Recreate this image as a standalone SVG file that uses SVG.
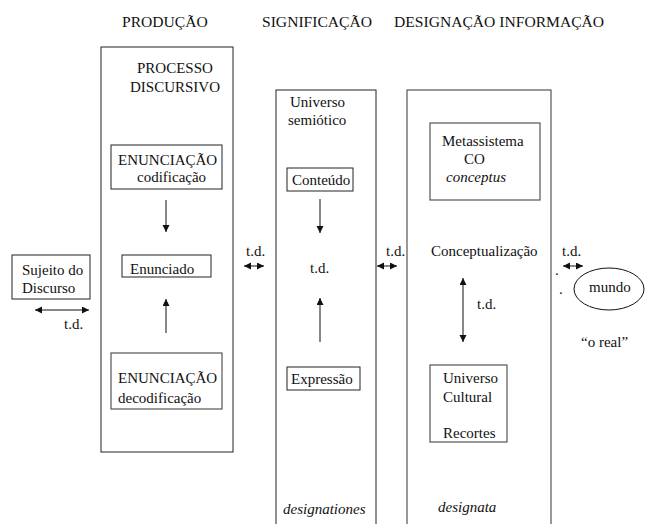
<svg xmlns="http://www.w3.org/2000/svg" width="645" height="524" viewBox="0 0 645 524" font-family="'Liberation Serif', 'Times New Roman', Times, serif">
<style>
text{font-family:'Liberation Serif','Times New Roman',Times,serif;font-size:15px;fill:#111}
.hd{font-size:15.6px}
.it{font-style:italic}
.box{fill:none;stroke:#222;stroke-width:1}
.gbox{fill:none;stroke:#555;stroke-width:1.2}
.ln{stroke:#111;stroke-width:1;fill:none}
</style>
<defs>
<marker id="ah" markerUnits="userSpaceOnUse" markerWidth="8" markerHeight="8" refX="7" refY="3.5" orient="auto-start-reverse">
<path d="M0,0 L7,3.5 L0,7 z" fill="#111"/>
</marker>
</defs>
<rect width="645" height="524" fill="#fff"/>
<g id="headers">
<text class="hd" x="122" y="27">PRODUÇÃO</text>
<text class="hd" x="262" y="27">SIGNIFICAÇÃO</text>
<text class="hd" x="394" y="27">DESIGNAÇÃO INFORMAÇÃO</text>
</g>
<g id="sujeito">
<rect class="box" x="12" y="255" width="78" height="44"/>
<text x="22" y="275">Sujeito do</text>
<text x="22" y="293">Discurso</text>
</g>
<g id="producao">
<rect class="box" x="101" y="47" width="132" height="405"/>
<text x="137" y="73">PROCESSO</text>
<text x="130" y="92">DISCURSIVO</text>
</g>
<g id="enunciacao-cod">
<rect class="box" x="111" y="145" width="111" height="44"/>
<text x="118" y="165">ENUNCIAÇÃO</text>
<text x="137" y="182">codificação</text>
</g>
<g id="enunciado">
<rect class="box" x="122" y="255" width="89" height="22"/>
<text x="130" y="274">Enunciado</text>
</g>
<g id="enunciacao-decod">
<rect class="gbox" x="111" y="353" width="111" height="56"/>
<text x="118" y="383">ENUNCIAÇÃO</text>
<text x="118" y="403">decodificação</text>
</g>
<g id="significacao">
<rect class="box" x="276" y="90" width="100" height="450"/>
<text x="290" y="107">Universo</text>
<text x="288" y="125">semiótico</text>
<text x="310" y="273">t.d.</text>
<text class="it" x="283" y="514">designationes</text>
</g>
<g id="conteudo">
<rect class="box" x="287" y="168" width="66" height="23"/>
<text x="292" y="185">Conteúdo</text>
</g>
<g id="expressao">
<rect class="box" x="287" y="367" width="73" height="23"/>
<text x="291" y="384">Expressão</text>
</g>
<g id="designacao">
<rect class="gbox" x="407" y="90" width="144" height="450"/>
<text x="431" y="256">Conceptualização</text>
<text x="477" y="309">t.d.</text>
<text class="it" x="438" y="512">designata</text>
</g>
<g id="metassistema">
<rect class="gbox" x="430" y="123" width="110" height="77"/>
<text x="442" y="146">Metassistema</text>
<text x="464" y="164">CO</text>
<text class="it" x="446" y="182">conceptus</text>
</g>
<g id="universo-cultural">
<rect class="gbox" x="430" y="365" width="77" height="77"/>
<text x="443" y="383">Universo</text>
<text x="443" y="402">Cultural</text>
<text x="443" y="438">Recortes</text>
</g>
<g id="mundo">
<ellipse class="ln" cx="609" cy="289" rx="35" ry="21"/>
<text x="589" y="292">mundo</text>
<text x="581" y="347">“o real”</text>
<text x="555" y="275">.</text>
<text x="559" y="294">.</text>
</g>
<g id="connectors">
<line class="ln" x1="166" y1="200" x2="166" y2="232" marker-end="url(#ah)"/>
<line class="ln" x1="166" y1="333" x2="166" y2="299" marker-end="url(#ah)"/>
<line class="ln" x1="320" y1="199" x2="320" y2="233" marker-end="url(#ah)"/>
<line class="ln" x1="320" y1="342" x2="320" y2="298" marker-end="url(#ah)"/>
<line class="ln" x1="463" y1="278" x2="463" y2="342" marker-start="url(#ah)" marker-end="url(#ah)"/>
<line class="ln" x1="35" y1="310" x2="89" y2="310" marker-start="url(#ah)" marker-end="url(#ah)"/>
<line class="ln" x1="244" y1="266" x2="264" y2="266" marker-start="url(#ah)" marker-end="url(#ah)"/>
<line class="ln" x1="377" y1="266" x2="397" y2="266" marker-start="url(#ah)" marker-end="url(#ah)"/>
<line class="ln" x1="563" y1="266" x2="583" y2="266" marker-start="url(#ah)" marker-end="url(#ah)"/>
<text x="64" y="329">t.d.</text>
<text x="246" y="256">t.d.</text>
<text x="386" y="256">t.d.</text>
<text x="562" y="256">t.d.</text>
</g>
</svg>
